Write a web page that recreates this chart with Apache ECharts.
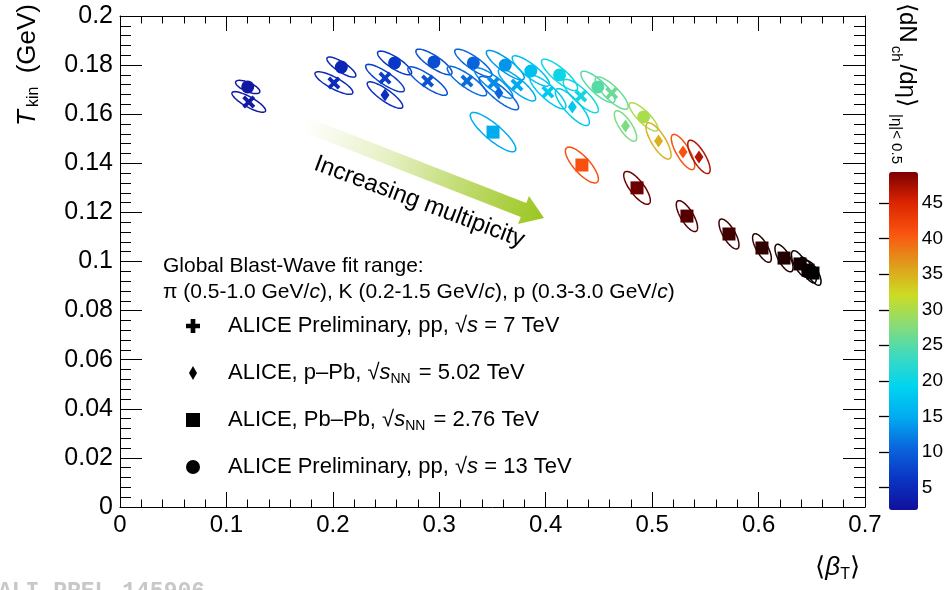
<!DOCTYPE html>
<html>
<head>
<meta charset="utf-8">
<script src="https://cdn.jsdelivr.net/npm/echarts@6/dist/echarts.min.js"></script>
<style>
  html, body { margin: 0; padding: 0; background: #ffffff; }
  #chart { width: 946px; height: 590px; }
</style>
</head>
<body>
<div id="chart"></div>
<script>
// ---- Blast-Wave fit results: <beta_T>, T_kin (GeV), <dNch/deta>, 1-sigma contour (sigma_beta, sigma_T, correlation) ----

// ALICE Preliminary, pp, sqrt(s) = 7 TeV
const pp7Beta = [0.121, 0.201, 0.249, 0.289, 0.326, 0.351, 0.373, 0.402, 0.433, 0.462];
const pp7Tkin = [0.1650, 0.1727, 0.1747, 0.1735, 0.1735, 0.1727, 0.1719, 0.1690, 0.1674, 0.1686];
const pp7Mult = [3.0, 5.0, 7.0, 9.0, 11.0, 13.0, 15.0, 18.0, 20.5, 26.0];
const pp7SigBeta = [0.0158, 0.0178, 0.0182, 0.0185, 0.0185, 0.0180, 0.0175, 0.0170, 0.0165, 0.0155];
const pp7SigT = [0.0042, 0.0046, 0.0056, 0.0058, 0.0060, 0.0062, 0.0065, 0.0068, 0.0068, 0.0066];
const pp7Rho = [-0.83, -0.82, -0.85, -0.85, -0.85, -0.85, -0.85, -0.84, -0.83, -0.82];

// ALICE, p-Pb, sqrt(sNN) = 5.02 TeV
const pPbBeta = [0.249, 0.356, 0.425, 0.475, 0.506, 0.529, 0.544];
const pPbTkin = [0.1678, 0.1686, 0.1629, 0.1552, 0.1491, 0.1446, 0.1426];
const pPbMult = [5.5, 10.5, 18.0, 27.0, 35.0, 41.0, 47.0];
const pPbSigBeta = [0.0167, 0.0185, 0.0160, 0.0105, 0.0118, 0.0110, 0.0105];
const pPbSigT = [0.0054, 0.0068, 0.0075, 0.0062, 0.0074, 0.0072, 0.0068];
const pPbRho = [-0.85, -0.86, -0.82, -0.76, -0.77, -0.77, -0.76];

// ALICE, Pb-Pb, sqrt(sNN) = 2.76 TeV
const pbpbBeta = [0.3505, 0.434, 0.4858, 0.5327, 0.5722, 0.6032, 0.6239, 0.6389, 0.6464, 0.6511];
const pbpbTkin = [0.1527, 0.1393, 0.1300, 0.1185, 0.1112, 0.1055, 0.1014, 0.0990, 0.0965, 0.0953];
const pbpbMult = [15.0, 41.0, 76.0, 149.0, 261.0, 426.0, 649.0, 966.0, 1294.0, 1601.0];
const pbpbSigBeta = [0.0214, 0.0155, 0.0125, 0.0100, 0.0094, 0.0088, 0.0085, 0.0080, 0.0078, 0.0076];
const pbpbSigT = [0.0080, 0.0073, 0.0067, 0.0063, 0.0061, 0.0058, 0.0056, 0.0054, 0.0052, 0.0050];
const pbpbRho = [-0.855, -0.78, -0.77, -0.74, -0.73, -0.72, -0.70, -0.70, -0.70, -0.70];

// ALICE Preliminary, pp, sqrt(s) = 13 TeV
const pp13Beta = [0.120, 0.208, 0.258, 0.295, 0.332, 0.362, 0.386, 0.413, 0.449, 0.492];
const pp13Tkin = [0.1711, 0.1792, 0.1809, 0.1813, 0.1809, 0.1800, 0.1776, 0.1760, 0.1711, 0.1589];
const pp13Mult = [2.6, 4.6, 6.5, 8.5, 10.5, 13.5, 17.0, 20.0, 25.0, 30.0];
const pp13SigBeta = [0.0114, 0.0136, 0.0160, 0.0170, 0.0175, 0.0178, 0.0175, 0.0170, 0.0160, 0.0135];
const pp13SigT = [0.0027, 0.0041, 0.0048, 0.0052, 0.0056, 0.0060, 0.0062, 0.0064, 0.0064, 0.0058];
const pp13Rho = [-0.68, -0.82, -0.82, -0.83, -0.84, -0.85, -0.85, -0.84, -0.83, -0.83];

// colour scale for <dNch/deta>
const cbarMin = 1.8;
const cbarMax = 49.4;
const cbarTicks = [5, 10, 15, 20, 25, 30, 35, 40, 45];
const palette = ['#10109c', '#0a34c4', '#0a64dc', '#00aaf0', '#00d4f0', '#3cdac0',
                 '#88dc78', '#ccdc24', '#e09a1c', '#fa5410', '#dc2400', '#7c0000'];

const legendLabels = {
  pp7:  'ALICE Preliminary, pp, {r|√}{i|s} = 7 TeV',
  pPb:  'ALICE, p–Pb, {r|√}{i|s}{sub|NN} = 5.02 TeV',
  PbPb: 'ALICE, Pb–Pb, {r|√}{i|s}{sub|NN} = 2.76 TeV',
  pp13: 'ALICE Preliminary, pp, {r|√}{i|s} = 13 TeV'
};

const FONT = "'Liberation Sans', Arial, Helvetica, sans-serif";

// ---- helpers ----
function hexToRgb(h) {
  return [parseInt(h.slice(1, 3), 16), parseInt(h.slice(3, 5), 16), parseInt(h.slice(5, 7), 16)];
}
function mix(a, b, t) {
  const A = hexToRgb(a), B = hexToRgb(b);
  const c = A.map((v, i) => Math.round(v + (B[i] - v) * t));
  return 'rgb(' + c.join(',') + ')';
}
// colour of a point from its multiplicity; values above the scale darken towards black
function colorFor(m) {
  if (m >= cbarMax) {
    const t = Math.min(1, Math.log(m / cbarMax) / Math.log(33));
    return mix(palette[palette.length - 1], '#000000', t);
  }
  const f = Math.max(0, (m - cbarMin) / (cbarMax - cbarMin)) * (palette.length - 1);
  const i = Math.min(palette.length - 2, Math.floor(f));
  return mix(palette[i], palette[i + 1], f - i);
}

function rows(beta, tk, mult, sb, st, rho) {
  return beta.map((b, i) => [b, tk[i], mult[i], sb[i], st[i], rho[i]]);
}
const pp7Rows = rows(pp7Beta, pp7Tkin, pp7Mult, pp7SigBeta, pp7SigT, pp7Rho);
const pPbRows = rows(pPbBeta, pPbTkin, pPbMult, pPbSigBeta, pPbSigT, pPbRho);
const pbpbRows = rows(pbpbBeta, pbpbTkin, pbpbMult, pbpbSigBeta, pbpbSigT, pbpbRho);
const pp13Rows = rows(pp13Beta, pp13Tkin, pp13Mult, pp13SigBeta, pp13SigT, pp13Rho);

// 1-sigma contour drawn in data space, converted through the axes
function ellipseItem(params, api) {
  const b = api.value(0), t = api.value(1), m = api.value(2);
  const sb = api.value(3), st = api.value(4), r = api.value(5);
  const k = Math.sqrt(1 - r * r);
  const pts = [];
  const N = 72;
  for (let i = 0; i < N; i++) {
    const a = 2 * Math.PI * i / N;
    pts.push(api.coord([b + sb * Math.cos(a), t + st * (r * Math.cos(a) + k * Math.sin(a))]));
  }
  return {
    type: 'polygon',
    shape: { points: pts },
    style: { fill: 'none', stroke: colorFor(m), lineWidth: 1.5 }
  };
}

function ellipseSeries(data) {
  return {
    type: 'custom', renderItem: ellipseItem, data: data,
    encode: { x: 0, y: 1 }, clip: true, silent: true, z: 2,
    xAxisIndex: 0, yAxisIndex: 0
  };
}
function markerSeries(name, data, symbol, size) {
  return {
    type: 'scatter', name: name, data: data.map(r => [r[0], r[1], r[2]]),
    symbol: symbol, symbolSize: size, silent: true, z: 3,
    xAxisIndex: 0, yAxisIndex: 0,
    itemStyle: { color: p => colorFor(p.value[2]), opacity: 1 }
  };
}

const crossX = 'path://M0,2.5L2.5,0L6,3.5L9.5,0L12,2.5L8.5,6L12,9.5L9.5,12L6,8.5L2.5,12L0,9.5L3.5,6Z';
const crossPlus = 'path://M4,0H8V4H12V8H8V12H4V8H0V4H4Z';
const diamond = 'path://M4,0L8,7L4,14L0,7Z';
const square = 'path://M0,0H12V12H0Z';

function arrowPoints(p0, p1, bodyHalf, headHalf, headLen) {
  const dx = p1[0] - p0[0], dy = p1[1] - p0[1], L = Math.hypot(dx, dy);
  const ux = dx / L, uy = dy / L, nx = -uy, ny = ux;
  const hx = p1[0] - ux * headLen, hy = p1[1] - uy * headLen;
  return [
    [p0[0] + nx * bodyHalf, p0[1] + ny * bodyHalf],
    [hx + nx * bodyHalf, hy + ny * bodyHalf],
    [hx + nx * headHalf, hy + ny * headHalf],
    [p1[0], p1[1]],
    [hx - nx * headHalf, hy - ny * headHalf],
    [hx - nx * bodyHalf, hy - ny * bodyHalf],
    [p0[0] - nx * bodyHalf, p0[1] - ny * bodyHalf]
  ];
}
const arrowTail = [305, 124.5], arrowTip = [544, 218];

const chart = echarts.init(document.getElementById('chart'), null, { renderer: 'canvas' });

const mainAxisX = (pos, labels) => ({
  type: 'value', gridIndex: 0, position: pos, min: 0, max: 0.7, interval: 0.1,
  axisLine: { show: true, onZero: false, lineStyle: { color: '#000', width: 1 } },
  axisTick: { show: true, inside: true, length: 15, lineStyle: { color: '#000', width: 1 } },
  minorTick: { show: true, splitNumber: 5, length: 7.5, lineStyle: { color: '#000', width: 1 } },
  axisLabel: { show: labels, fontSize: 24, color: '#000', fontFamily: FONT, margin: 6 },
  splitLine: { show: false }
});
const mainAxisY = (pos, labels) => ({
  type: 'value', gridIndex: 0, position: pos, min: 0, max: 0.2, interval: 0.02,
  axisLine: { show: true, onZero: false, lineStyle: { color: '#000', width: 1 } },
  axisTick: { show: true, inside: true, length: 22, lineStyle: { color: '#000', width: 1 } },
  minorTick: { show: true, splitNumber: 5, length: 11, lineStyle: { color: '#000', width: 1 } },
  axisLabel: { show: labels, fontSize: 25, color: '#000', fontFamily: FONT, margin: 7 },
  splitLine: { show: false }
});

const option = {
  backgroundColor: '#ffffff',
  animation: false,
  textStyle: { fontFamily: FONT },
  grid: [
    { left: 120, top: 16, width: 745, height: 491 },
    { left: 889, top: 172, width: 29, height: 338 }
  ],
  xAxis: [
    mainAxisX('bottom', true),
    mainAxisX('top', false),
    { type: 'value', gridIndex: 1, show: false, min: 0, max: 1 }
  ],
  yAxis: [
    mainAxisY('left', true),
    mainAxisY('right', false),
    {
      type: 'value', gridIndex: 1, position: 'right', min: cbarMin, max: cbarMax, z: 10,
      axisLine: { show: false },
      axisTick: { show: true, inside: true, length: 10, customValues: cbarTicks, lineStyle: { color: '#000', width: 1.3 } },
      axisLabel: { show: true, customValues: cbarTicks, fontSize: 19, color: '#000', fontFamily: FONT, margin: 5 },
      splitLine: { show: false }
    }
  ],
  visualMap: {
    type: 'continuous', min: cbarMin, max: cbarMax, seriesIndex: 8, dimension: 1,
    calculable: false, orient: 'vertical', left: 889, top: 172,
    itemWidth: 29, itemHeight: 338, padding: 0, hoverLink: false,
    inRange: { color: palette }
  },
  legend: {
    orient: 'vertical', left: 186, top: 313, padding: 0,
    itemWidth: 60, itemHeight: 14, itemGap: 21, selectedMode: false,
    symbolRotate: 0,
    itemStyle: { color: '#000', borderWidth: 0 },
    data: [
      { name: 'pp7', icon: crossPlus },
      { name: 'pPb', icon: diamond },
      { name: 'PbPb', icon: square },
      { name: 'pp13', icon: 'circle' }
    ],
    formatter: n => legendLabels[n],
    textStyle: {
      fontSize: 22, color: '#000', fontFamily: FONT, lineHeight: 26,
      rich: {
        r: { fontSize: 22, fontFamily: FONT, color: '#000' },
        i: { fontSize: 22, fontStyle: 'italic', fontFamily: FONT, color: '#000' },
        sub: { fontSize: 14, lineHeight: 14, verticalAlign: 'bottom', fontFamily: FONT, color: '#000', padding: [0, 2, 0, 0] }
      }
    }
  },
  series: [
    ellipseSeries(pp13Rows),
    ellipseSeries(pp7Rows),
    ellipseSeries(pPbRows),
    ellipseSeries(pbpbRows),
    markerSeries('pp13', pp13Rows, 'circle', 13),
    markerSeries('pp7', pp7Rows, crossX, 13),
    markerSeries('pPb', pPbRows, diamond, [9, 13]),
    markerSeries('PbPb', pbpbRows, square, 13),
    { type: 'scatter', name: 'colourScale', data: [], xAxisIndex: 2, yAxisIndex: 2, silent: true }
  ],
  graphic: [
    {
      type: 'polygon', silent: true, z: 1,
      shape: { points: arrowPoints(arrowTail, arrowTip, 7.5, 15, 22) },
      style: {
        fill: {
          type: 'linear', global: true,
          x: arrowTail[0], y: arrowTail[1], x2: arrowTip[0], y2: arrowTip[1],
          colorStops: [
            { offset: 0, color: '#ffffff' },
            { offset: 0.35, color: '#e6f0c4' },
            { offset: 0.7, color: '#bcd966' },
            { offset: 1, color: '#9bc61f' }
          ]
        }
      }
    },
    {
      type: 'text', silent: true, z: 5, x: 315, y: 163, rotation: -20.5 * Math.PI / 180,
      style: { text: 'Increasing multipicity', fontSize: 24, fontFamily: FONT, fill: '#000', align: 'left', verticalAlign: 'middle' }
    },
    {
      type: 'text', silent: true, z: 5, x: 163, y: 266,
      style: { text: 'Global Blast-Wave fit range:', fontSize: 21, fontFamily: FONT, fill: '#000', align: 'left', verticalAlign: 'middle' }
    },
    {
      type: 'text', silent: true, z: 5, x: 163, y: 292,
      style: {
        text: 'π (0.5-1.0 GeV/{i|c}), K (0.2-1.5 GeV/{i|c}), p (0.3-3.0 GeV/{i|c})',
        fontSize: 21, fontFamily: FONT, fill: '#000', align: 'left', verticalAlign: 'middle',
        rich: { i: { fontSize: 21, fontStyle: 'italic', fontFamily: FONT, fill: '#000' } }
      }
    },
    {
      type: 'text', silent: true, z: 5, x: 28, y: 4, rotation: Math.PI / 2,
      style: {
        text: '{t|T}{s|kin} (GeV)', fontSize: 26, fontFamily: FONT, fill: '#000',
        align: 'right', verticalAlign: 'middle', lineHeight: 28,
        rich: {
          t: { fontSize: 26, fontStyle: 'italic', fontFamily: FONT, fill: '#000', padding: [0, 3, 0, 0] },
          s: { fontSize: 16, lineHeight: 16, verticalAlign: 'bottom', fontFamily: FONT, fill: '#000', padding: [0, 6, 0, 0] }
        }
      }
    },
    {
      type: 'text', silent: true, z: 5, x: 860, y: 568,
      style: {
        text: '⟨{b|β}{s|T}⟩', fontSize: 26, fontFamily: FONT, fill: '#000',
        align: 'right', verticalAlign: 'middle', lineHeight: 30,
        rich: {
          b: { fontSize: 26, fontStyle: 'italic', fontFamily: FONT, fill: '#000' },
          s: { fontSize: 16, lineHeight: 16, verticalAlign: 'bottom', fontFamily: FONT, fill: '#000' }
        }
      }
    },
    {
      type: 'text', silent: true, z: 5, x: 907, y: 3, rotation: -Math.PI / 2,
      style: {
        text: '⟨dN{s|ch}/dη⟩{s| |η|< 0.5}', fontSize: 24, fontFamily: FONT, fill: '#000',
        align: 'left', verticalAlign: 'middle', lineHeight: 36,
        rich: {
          s: { fontSize: 15, lineHeight: 15, verticalAlign: 'bottom', fontFamily: FONT, fill: '#000', padding: [0, 3, 0, 3] }
        }
      }
    },
    {
      type: 'text', silent: true, z: 5, x: -2, y: 581,
      style: { text: 'ALI-PREL-145906', fontSize: 23, fontWeight: 'bold', fontFamily: "'Liberation Mono', 'DejaVu Sans Mono', monospace", fill: '#c8c8c8', align: 'left', verticalAlign: 'top' }
    }
  ]
};

chart.setOption(option);
</script>
</body>
</html>
